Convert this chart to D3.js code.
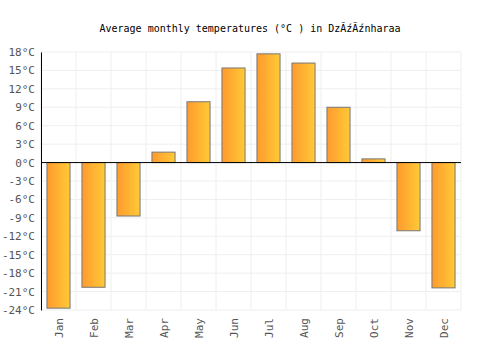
<!DOCTYPE html>
<html>
<head>
<meta charset="utf-8">
<script src="https://cdn.jsdelivr.net/npm/d3@7"></script>
<style>
  body { margin: 0; background: #fff; }
  text { font-family: "DejaVu Sans Mono", monospace; }
</style>
</head>
<body>
<script>
// chart data
var months = ["Jan", "Feb", "Mar", "Apr", "May", "Jun", "Jul", "Aug", "Sep", "Oct", "Nov", "Dec"];
var temps = [-23.7, -20.3, -8.7, 1.7, 9.9, 15.4, 17.7, 16.2, 9.0, 0.6, -11.1, -20.4];
var yTicks = [-24, -21, -18, -15, -12, -9, -6, -3, 0, 3, 6, 9, 12, 15, 18];

var width = 500, height = 350;
var margin = {top: 52, right: 39, bottom: 40, left: 41};

var svg = d3.select("body").append("svg")
    .attr("width", width)
    .attr("height", height);

var defs = svg.append("defs");
var grad = defs.append("linearGradient").attr("id", "barGrad")
    .attr("x1", "0%").attr("x2", "100%").attr("y1", "0%").attr("y2", "0%");
grad.append("stop").attr("offset", "0%").attr("stop-color", "#ff9a2e");
grad.append("stop").attr("offset", "100%").attr("stop-color", "#ffca36");

var x = d3.scaleBand()
    .domain(months)
    .range([margin.left, width - margin.right])
    .paddingInner(0.34)
    .paddingOuter(0.17);

var y = d3.scaleLinear()
    .domain([-24, 18])
    .range([height - margin.bottom, margin.top]);

// title
svg.append("text")
    .attr("x", 250).attr("y", 32)
    .attr("text-anchor", "middle")
    .style("font-size", "10px")
    .attr("fill", "#000")
    .text("Average monthly temperatures (°C ) in DzĂźĂźnharaa");

// grid
var step = (width - margin.right - margin.left) / months.length;
svg.append("g").selectAll("line")
    .data(d3.range(months.length + 1))
    .join("line")
    .attr("x1", d => margin.left + d * step)
    .attr("x2", d => margin.left + d * step)
    .attr("y1", y(18)).attr("y2", y(-24))
    .attr("stroke", "#eeeeee");

svg.append("g").selectAll("line")
    .data(yTicks)
    .join("line")
    .attr("x1", margin.left).attr("x2", width - margin.right)
    .attr("y1", d => y(d)).attr("y2", d => y(d))
    .attr("stroke", "#eeeeee");

// bars
svg.append("g").selectAll("rect")
    .data(temps)
    .join("rect")
    .attr("x", (d, i) => x(months[i]))
    .attr("width", x.bandwidth())
    .attr("y", d => Math.min(y(d), y(0)))
    .attr("height", d => Math.abs(y(d) - y(0)))
    .attr("fill", "url(#barGrad)")
    .attr("stroke", "#777")
    .attr("stroke-width", 1);

// y axis
var yAxis = svg.append("g")
    .attr("transform", "translate(" + margin.left + ",0)")
    .call(d3.axisLeft(y).tickValues(yTicks).tickSize(0).tickPadding(6).tickFormat(d => d + "°C"));
yAxis.select(".domain").attr("stroke", "#000");
yAxis.selectAll("text")
    .style("font-family", "DejaVu Sans Mono, monospace")
    .style("font-size", "11px")
    .attr("fill", "#555");

// zero line
svg.append("line")
    .attr("x1", margin.left).attr("x2", width - margin.right)
    .attr("y1", y(0)).attr("y2", y(0))
    .attr("stroke", "#000");

// x labels
svg.append("g").selectAll("text")
    .data(months)
    .join("text")
    .attr("transform", d => "translate(" + (x(d) + x.bandwidth() / 2 + 4) + "," + (height - margin.bottom + 8) + ") rotate(-90)")
    .attr("text-anchor", "end")
    .style("font-size", "11px")
    .attr("fill", "#555")
    .text(d => d);
</script>
</body>
</html>
